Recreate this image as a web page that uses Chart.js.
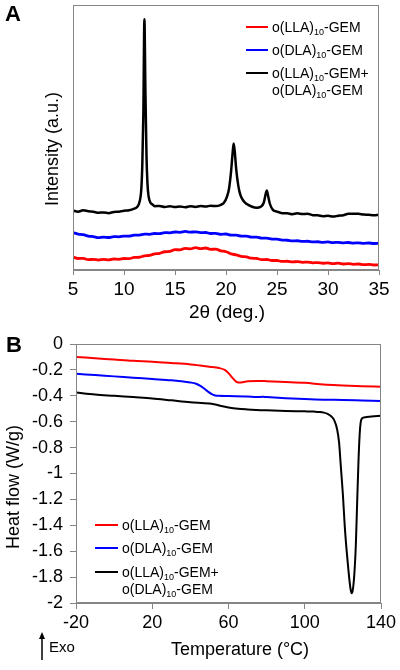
<!DOCTYPE html>
<html><head><meta charset="utf-8">
<script src="https://cdn.jsdelivr.net/npm/chart.js@4.4.1/dist/chart.umd.min.js"></script>
<style>
html,body{margin:0;padding:0;background:#fff;}
#wrap{position:relative;width:400px;height:670px;overflow:hidden;background:#fff;}
canvas{position:absolute;left:0;}
#cA{top:0;} #cB{top:320px;}
</style></head><body>
<div id="wrap"><canvas id="cA" width="400" height="335"></canvas><canvas id="cB" width="400" height="350"></canvas></div>
<script>
const FONT = "'Liberation Sans', Arial, Helvetica, sans-serif";

// Series names (_{..} = subscript)
const seriesNames = ['o(LLA)_{10}-GEM', 'o(DLA)_{10}-GEM', 'o(LLA)_{10}-GEM+\no(DLA)_{10}-GEM'];
const seriesColors = ['#ff0000', '#0000ff', '#000000'];

// Panel A: XRD (2θ in degrees, intensity in arbitrary units)
const xrdTheta = [5,5.5,6,6.5,7,7.5,8,8.5,9,9.5,10,10.5,11,11.5,12,12.5,13,13.5,14,14.5,15,15.5,16,16.5,17,17.5,18,18.5,19,19.5,20,20.5,21,21.5,22,22.5,23,23.5,24,24.5,25,25.5,26,26.5,27,27.5,28,28.5,29,29.5,30,30.5,31,31.5,32,32.5,33,33.5,34,34.5,35];
const xrdRed = [12.6,11.3,11.5,10.2,10.4,9.8,10.4,9.9,10.8,10.5,11.3,11.2,12.3,12.5,13.9,14.3,15.9,16.4,17.9,18.2,19.9,19.8,21.3,20.7,21.9,20.9,21.6,20.3,20.4,18.8,17.9,15.8,14.8,13.3,12.8,11.6,11.3,10.2,10.3,9.3,9.3,8.4,8.6,7.9,8.3,7.5,7.8,7.0,7.3,6.6,6.9,6.3,6.7,5.9,6.2,5.6,5.9,5.2,5.5,4.9,5.1];
const xrdBlue = [36.6,35.3,34.7,33.3,32.8,31.8,32.3,31.9,32.8,32.5,33.3,33.2,34.2,34.3,35.2,35.0,35.8,35.7,36.7,36.5,37.3,37.0,37.8,37.2,37.4,36.7,36.8,35.8,35.9,35.0,35.3,34.2,34.2,33.2,33.2,32.2,32.2,31.2,31.2,30.3,30.2,29.3,29.2,28.6,28.7,28.0,28.2,27.6,27.7,27.2,27.5,26.9,27.2,26.7,27.0,26.4,26.7,26.2,26.5,26.0,26.2];
const xrdBlackTheta = [5,5.5,6,6.5,7,7.5,8,8.5,9,9.5,10,10.5,11,11.3,11.5,11.7,11.8,11.9,12,12.1,12.2,12.3,12.4,12.6,12.8,13,13.5,14,14.5,15,15.5,16,16.5,17,17.5,18,18.5,19,19.5,19.8,20.1,20.3,20.5,20.65,20.75,20.85,21,21.2,21.4,21.7,22,22.5,23,23.4,23.7,23.9,24,24.1,24.3,24.6,25,25.5,26,26.5,27,27.5,28,28.5,29,29.5,30,30.5,31,31.5,32,32.5,33,33.5,34,34.5,35];
const xrdBlack = [58.3,57.2,58.6,57.6,57.2,56.2,56.4,55.8,57.0,57.2,58.2,58.6,60.2,62,66,80,105,155,246,175,115,85,73,66,64.2,62.6,62.9,61.8,62.6,61.7,62.3,61.6,62.6,61.9,62.7,62.2,63.1,62.7,64,66,72,80,97,115,124,117,99,83,74,68,65,62.3,61,62,66,75,78,74,65,59,57.3,55.8,55.7,54.8,55.6,54.9,55.2,53.8,53.6,52.8,53.2,52.4,53.3,53.8,55.2,55.3,55.2,54.4,54.2,53.8,54.1];
const xTickLabelsA = ['5','10','15','20','25','30','35'];

// Panel B: DSC (temperature in °C, heat flow in W/g)
const dscRedT = [-20,-10,0,10,20,30,40,45,50,55,58,60,62,64,66,68,70,75,80,90,100,110,120,130,140];
const dscRed = [-0.10,-0.11,-0.12,-0.13,-0.137,-0.147,-0.158,-0.166,-0.175,-0.185,-0.20,-0.225,-0.26,-0.29,-0.298,-0.293,-0.288,-0.285,-0.287,-0.293,-0.30,-0.313,-0.32,-0.326,-0.33];
const dscBlueT = [-20,-10,0,10,20,30,35,40,43,45,47,49,51,53,55,60,70,75,78,80,90,100,110,120,130,140];
const dscBlue = [-0.23,-0.24,-0.25,-0.26,-0.27,-0.28,-0.287,-0.297,-0.307,-0.322,-0.342,-0.365,-0.385,-0.397,-0.40,-0.402,-0.405,-0.41,-0.408,-0.41,-0.418,-0.425,-0.43,-0.432,-0.436,-0.44];
const dscBlackT = [-20,-10,0,10,20,30,40,50,60,65,70,80,90,100,105,108,110,112,114,115.5,117,118,119,120,121,122,123,124,124.6,125.2,126,126.8,127.5,128.2,128.8,129.3,130,132,135,140];
const dscBlack = [-0.375,-0.39,-0.40,-0.41,-0.42,-0.435,-0.45,-0.46,-0.49,-0.50,-0.505,-0.512,-0.517,-0.52,-0.522,-0.525,-0.53,-0.54,-0.56,-0.59,-0.66,-0.76,-0.96,-1.16,-1.41,-1.60,-1.76,-1.89,-1.925,-1.90,-1.78,-1.55,-1.22,-0.90,-0.70,-0.61,-0.575,-0.565,-0.56,-0.555];
const xTickLabelsB = ['-20','20','60','100','140'];
const yTickValuesB = [0,-0.2,-0.4,-0.6,-0.8,-1,-1.2,-1.4,-1.6,-1.8,-2];
const yTickLabelsB = ['0','-0.2','-0.4','-0.6','-0.8','-1','-1.2','-1.4','-1.6','-1.8','-2'];

const AXIS = '#858585';

function pts(xs, ys){ return xs.map((x,i)=>({x:x, y:ys[i]})); }

function drawRich(ctx, text, x, y, size){
  const parts = text.split(/(_\{[^}]*\})/);
  let cx = x;
  ctx.textAlign = 'left'; ctx.textBaseline = 'alphabetic';
  for (const p of parts){
    if (!p) continue;
    if (p.startsWith('_{')){
      const s = p.slice(2,-1);
      ctx.font = Math.round(size*0.66) + 'px ' + FONT;
      ctx.fillText(s, cx, y + size*0.2);
      cx += ctx.measureText(s).width;
    } else {
      ctx.font = size + 'px ' + FONT;
      ctx.fillText(p, cx, y);
      cx += ctx.measureText(p).width;
    }
  }
}

const framePlugin = {
  id: 'frame',
  afterDraw(chart){
    const {ctx, chartArea:a} = chart;
    ctx.save();
    ctx.strokeStyle = AXIS; ctx.lineWidth = 1;
    ctx.strokeRect(Math.round(a.left)+0.5, Math.round(a.top)+0.5, Math.round(a.right-a.left)-1, Math.round(a.bottom-a.top)-1);
    ctx.restore();
  }
};

const legendPlugin = {
  id: 'richLegend',
  afterDatasetsDraw(chart, args, o){
    const ctx = chart.ctx;
    ctx.save();
    seriesNames.forEach((name, i) => {
      const y = o.rows[i];
      ctx.strokeStyle = seriesColors[i]; ctx.lineWidth = 2;
      ctx.beginPath(); ctx.moveTo(o.x0, y); ctx.lineTo(o.x0 + o.len, y); ctx.stroke();
      ctx.fillStyle = '#000';
      name.split('\n').forEach((line, j) => drawRich(ctx, line, o.textX, y + o.size*0.36 + j*o.lineGap, o.size));
    });
    ctx.restore();
  }
};

const textPlugin = {
  id: 'texts',
  afterDraw(chart, args, o){
    const ctx = chart.ctx;
    ctx.save();
    ctx.fillStyle = '#000';
    for (const t of o.items){
      ctx.save();
      ctx.font = t.font;
      ctx.textAlign = t.align || 'center';
      ctx.textBaseline = t.baseline || 'middle';
      ctx.translate(t.x, t.y);
      if (t.rot) ctx.rotate(t.rot);
      ctx.fillText(t.text, 0, 0);
      ctx.restore();
    }
    if (o.arrow){
      const a = o.arrow;
      ctx.strokeStyle = '#000'; ctx.lineWidth = 1.5;
      ctx.beginPath(); ctx.moveTo(a.x, a.y2); ctx.lineTo(a.x, a.y1 + 5); ctx.stroke();
      ctx.beginPath(); ctx.moveTo(a.x, a.y1); ctx.lineTo(a.x - 3, a.y1 + 7); ctx.lineTo(a.x + 3, a.y1 + 7); ctx.closePath(); ctx.fill();
    }
    ctx.restore();
  }
};

function lineDs(label, data, color, w){
  return {label, data, borderColor: color, backgroundColor: color, borderWidth: w, pointRadius: 0, fill: false, cubicInterpolationMode: 'monotone'};
}

new Chart(document.getElementById('cA'), {
  type: 'line',
  data: { datasets: [
    lineDs(seriesNames[0], pts(xrdTheta, xrdRed), seriesColors[0], 2.8),
    lineDs(seriesNames[1], pts(xrdTheta, xrdBlue), seriesColors[1], 2.8),
    lineDs(seriesNames[2], pts(xrdBlackTheta, xrdBlack), seriesColors[2], 2.5)
  ]},
  options: {
    responsive: false, animation: false, devicePixelRatio: 1,
    layout: { padding: { top: 5, right: 21, left: 0, bottom: 0 } },
    plugins: {
      legend: { display: false }, tooltip: { enabled: false },
      richLegend: { x0: 246, len: 22, textX: 272, rows: [27, 50, 73], lineGap: 17, size: 14 },
      texts: { items: [
        { text: 'A', x: 13, y: 15, font: 'bold 22px ' + FONT },
        { text: 'Intensity (a.u.)', x: 53, y: 149, rot: -Math.PI/2, font: '18px ' + FONT },
        { text: '2θ (deg.)', x: 227, y: 318, baseline: 'alphabetic', font: '19px ' + FONT }
      ]}
    },
    scales: {
      x: { type: 'linear', min: 5, max: 35,
        ticks: { stepSize: 5, color: '#000', padding: 3, font: { size: 19, family: FONT },
          callback: (v) => xTickLabelsA[Math.round((v - 5) / 5)] },
        grid: { drawOnChartArea: false, drawTicks: true, tickLength: 5, color: AXIS },
        border: { display: true, color: AXIS },
        afterFit: (s) => { s.height = 65; } },
      y: { type: 'linear', min: 0, max: 260,
        ticks: { display: false },
        grid: { drawOnChartArea: false, drawTicks: false, color: AXIS },
        border: { display: true, color: AXIS },
        afterFit: (s) => { s.width = 73; } }
    }
  },
  plugins: [framePlugin, legendPlugin, textPlugin]
});

new Chart(document.getElementById('cB'), {
  type: 'line',
  data: { datasets: [
    lineDs(seriesNames[0], pts(dscRedT, dscRed), seriesColors[0], 2),
    lineDs(seriesNames[1], pts(dscBlueT, dscBlue), seriesColors[1], 2),
    lineDs(seriesNames[2], pts(dscBlackT, dscBlack), seriesColors[2], 2)
  ]},
  options: {
    responsive: false, animation: false, devicePixelRatio: 1,
    layout: { padding: { top: 24, right: 19, left: 0, bottom: 0 } },
    plugins: {
      legend: { display: false }, tooltip: { enabled: false },
      richLegend: { x0: 95, len: 23, textX: 122, rows: [205, 228, 252], lineGap: 17, size: 14 },
      texts: { items: [
        { text: 'B', x: 14, y: 26, font: 'bold 22px ' + FONT },
        { text: 'Heat flow (W/g)', x: 14, y: 167, rot: -Math.PI/2, font: '18px ' + FONT },
        { text: 'Temperature (°C)', x: 240, y: 335, baseline: 'alphabetic', font: '18px ' + FONT },
        { text: 'Exo', x: 49, y: 332, align: 'left', baseline: 'alphabetic', font: '15px ' + FONT }
      ], arrow: { x: 42, y1: 312, y2: 340 } }
    },
    scales: {
      x: { type: 'linear', min: -20, max: 140,
        ticks: { stepSize: 40, color: '#000', padding: 3, font: { size: 18, family: FONT },
          callback: (v) => xTickLabelsB[Math.round((v + 20) / 40)] },
        grid: { drawOnChartArea: false, drawTicks: true, tickLength: 6, color: AXIS },
        border: { display: true, color: AXIS },
        afterFit: (s) => { s.height = 67; } },
      y: { type: 'linear', min: -2, max: 0,
        ticks: { stepSize: 0.2, color: '#000', padding: 7, font: { size: 18, family: FONT },
          callback: (v) => { const k = yTickValuesB.findIndex(t => Math.abs(t - v) < 1e-6); return k < 0 ? '' : yTickLabelsB[k]; } },
        grid: { drawOnChartArea: false, drawTicks: true, tickLength: 6, color: AXIS },
        border: { display: true, color: AXIS },
        afterFit: (s) => { s.width = 76; } }
    }
  },
  plugins: [framePlugin, legendPlugin, textPlugin]
});
</script>
</body></html>
